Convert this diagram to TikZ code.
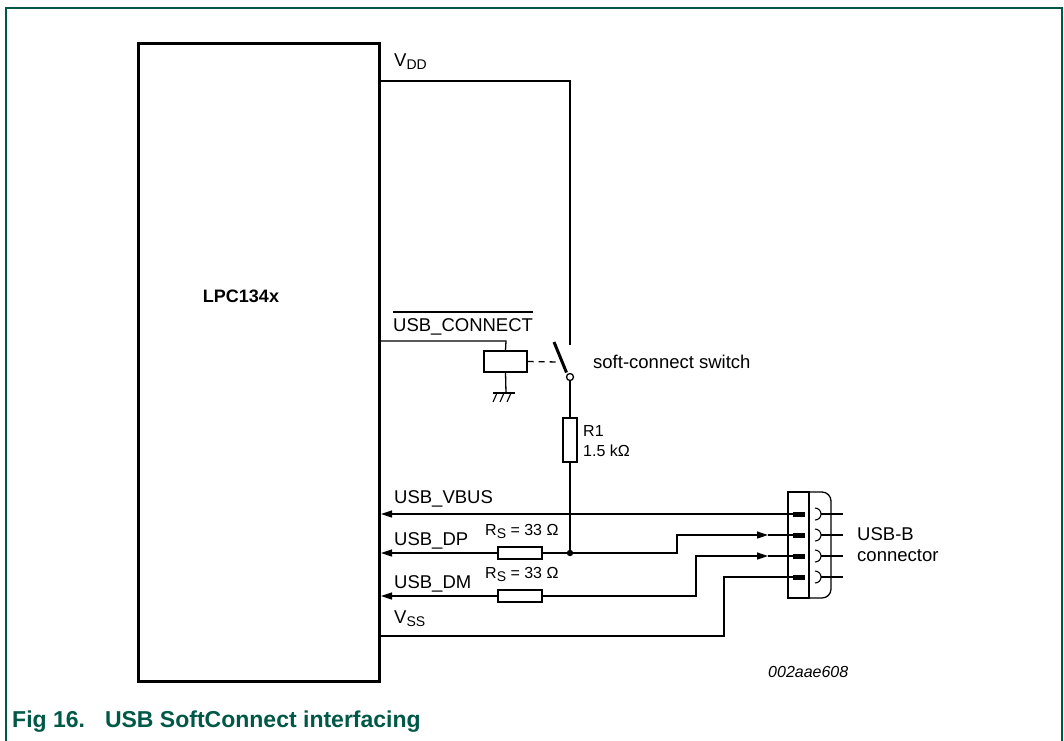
\documentclass[tikz,border=0pt]{standalone}
\usepackage{fontspec}
\setmainfont{Liberation Sans}
\usetikzlibrary{arrows.meta}
\definecolor{nxpgreen}{RGB}{0,88,70}
\newcommand{\mysub}[1]{\raisebox{-3.5pt}{\fontsize{14}{14}\selectfont #1}}
\newcommand{\mysubs}[1]{\raisebox{-3pt}{\fontsize{14}{14}\selectfont #1}}
\begin{document}
\begin{tikzpicture}[x=1pt,y=-1pt,
  wire/.style={line width=1.3pt},
  lbl/.style={font=\fontsize{18.5}{22}\selectfont, anchor=base west, inner sep=0pt},
  slbl/.style={font=\fontsize{16}{19}\selectfont, anchor=base west, inner sep=0pt},
  resbox/.style={draw, line width=1.3pt, inner sep=0pt},
  arr/.style={wire, -{Triangle[length=11pt,width=7pt]}},
  pinbar/.style={line width=5pt},
]
\useasboundingbox (0,0) rectangle (1064,740);
% frame
\draw[nxpgreen, line width=1.5pt] (6,745) -- (6,8) -- (1062,8) -- (1062,745);
% chip
\node[draw, line width=3pt, minimum width=241pt, minimum height=638pt, anchor=north west, inner sep=0pt] (lpc) at (137,42) {};
\node[font=\bfseries\fontsize{18}{21}\selectfont, inner sep=0pt] (lpcname) at (241,296) {LPC134x};

% VDD
\node[lbl] (vddl) at (394,66) {V\mysub{DD}};
\coordinate (vddc) at (570,81);
\coordinate (swtop) at (570,345);
\draw[wire] (lpc.east |- vddc) -- (vddc) -- (swtop);

% USB_CONNECT
\node[lbl] (conl) at (393,331) {USB\_CONNECT};
\draw[line width=1.1pt] (conl.north west |- 0,312) -- (conl.north east |- 0,312);
\node[resbox, minimum width=43pt, minimum height=21pt] (relay) at (505.5,361.5) {};
\coordinate (conc) at (506,341);
\draw[wire] (lpc.east |- conc) -- (conc) -- (relay.north);
\coordinate (gnd) at (506,393);
\draw[wire] (relay.south) -- (gnd);
\draw[wire] (493,393) -- (515,393);
\foreach \gx in {497,504,511} \draw[line width=1.1pt] (\gx,393) -- (\gx-4,402);
% switch
\node[draw, circle, line width=1.3pt, minimum size=7pt, inner sep=0pt] (swc) at (570,377) {};
\coordinate (blade) at (554,342);
\draw[line width=3pt] (blade) -- (566.5,372.5);
\draw[wire, dashed, dash pattern=on 6pt off 5pt] (relay.east) -- (559,362);
\node[lbl, anchor=west] (swl) at (593,362) {soft-connect switch};
% R1
\node[resbox, minimum width=14pt, minimum height=44pt] (r1) at (570,440) {};
\node[slbl] (r1a) at (583,436) {R1};
\node[slbl] (r1b) at (583,456) {1.5 kΩ};
\coordinate (jdp) at (570,553);
\draw[wire] (swc.south) -- (r1.north);
\draw[wire] (r1.south) -- (jdp);
\fill (jdp) circle[radius=3.2];

% connector
\draw[line width=1.3pt] (788,492) rectangle (809,598);
\draw[line width=1.3pt, rounded corners=9pt] (809,492) -- (831,492) -- (831,598) -- (809,598);
\foreach \r/\n in {514/1,535/2,556/3,577/4} {
  \coordinate (pin\n) at (793,\r);
  \draw[pinbar] (793,\r) -- (805,\r);
  \draw[line width=1.1pt] (815,\r-6) arc[start angle=-90,end angle=90,radius=6];
  \draw[wire] (821,\r) -- (843,\r);
}
\node[font=\fontsize{18.5}{22}\selectfont, align=left, anchor=west, inner sep=0pt] (usbb) at (857,545) {USB-B\\[-1pt]connector};

% VBUS
\node[lbl] (vbusl) at (394,503) {USB\_VBUS};
\draw[arr] (pin1) -- (lpc.east |- pin1);

% DP
\node[lbl] (dpl) at (394,545) {USB\_DP};
\node[slbl] (rs1l) at (485,535) {R\mysubs{S} = 33 Ω};
\node[resbox, minimum width=44pt, minimum height=12pt] (rs1) at (520,553) {};
\draw[arr] (rs1.west) -- (lpc.east |- rs1);
\draw[wire] (rs1.east) -- (jdp);
\coordinate (dpa) at (677,553);
\coordinate (dpb) at (677,535);
\coordinate (dpm) at (768,535);
\draw[arr] (jdp) -- (dpa) -- (dpb) -- (dpm);
\draw[wire] (dpm) -- (pin2);

% DM
\node[lbl] (dml) at (394,588) {USB\_DM};
\node[slbl] (rs2l) at (485,578) {R\mysubs{S} = 33 Ω};
\node[resbox, minimum width=44pt, minimum height=12pt] (rs2) at (520,596) {};
\draw[arr] (rs2.west) -- (lpc.east |- rs2);
\coordinate (dma) at (696,596);
\coordinate (dmb) at (696,556);
\coordinate (dmm) at (768,556);
\draw[arr] (rs2.east) -- (dma) -- (dmb) -- (dmm);
\draw[wire] (dmm) -- (pin3);

% VSS
\node[lbl] (vssl) at (394,623) {V\mysub{SS}};
\coordinate (vssa) at (724,636);
\coordinate (vssb) at (724,577);
\draw[wire] (lpc.east |- vssa) -- (vssa) -- (vssb) -- (pin4);

% ids
\node[font=\itshape\fontsize{16}{19}\selectfont, anchor=base west, inner sep=0pt] (code) at (768,677) {002aae608};
\node[font=\bfseries\fontsize{23}{27}\selectfont, text=nxpgreen, anchor=base west, inner sep=0pt] (cap) at (12,727) {Fig 16.\hspace{20pt}USB SoftConnect interfacing};
\end{tikzpicture}
\end{document}
